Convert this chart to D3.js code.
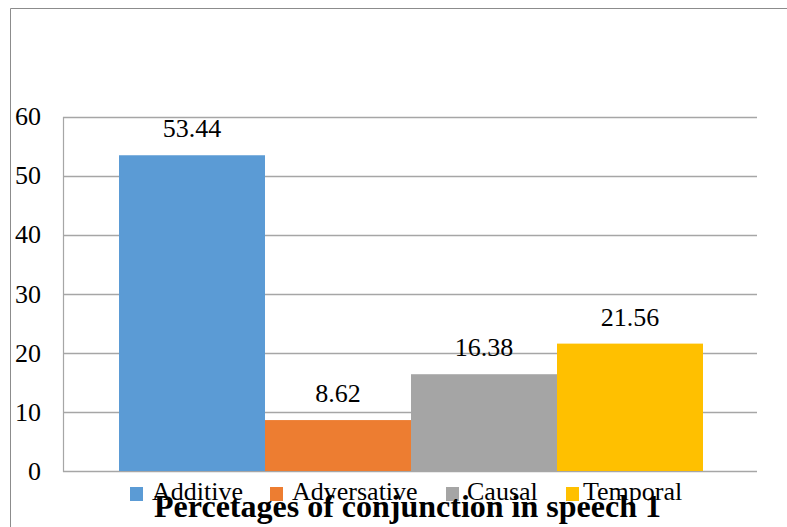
<!DOCTYPE html>
<html><head><meta charset="utf-8">
<script src="https://cdn.jsdelivr.net/npm/d3@7"></script>
<style>body{margin:0;background:#fff}svg{display:block}svg text{font-family:"Liberation Serif","Times New Roman",serif !important}</style>
</head><body><svg id="c" width="787" height="527"></svg>
<script>
const categories = ["Additive","Adversative","Causal","Temporal"];
const values = [53.44, 8.62, 16.38, 21.56];
const colors = ["#5b9bd5","#ed7d31","#a5a5a5","#ffc000"];
const yTicks = [0,10,20,30,40,50,60];
const title = "Percetages of conjunction in speech 1";

const svg = d3.select("#c");
// outer chart border
svg.append("path").attr("d","M10.5,600V8.5H800").attr("fill","none").attr("stroke","#8c8c8c").attr("stroke-width",1);

const pLeft=63, pRight=757, pTop=116.5, pBottom=471;
const y = d3.scaleLinear().domain([0,60]).range([pBottom, pTop]);
const x = d3.scaleBand().domain(categories).range([119, 703]).padding(0);

// gridlines
svg.append("g").selectAll("line").data(yTicks).join("line")
  .attr("x1",pLeft).attr("x2",pRight)
  .attr("y1",d=>Math.round(y(d))+0.5).attr("y2",d=>Math.round(y(d))+0.5)
  .attr("stroke","#a6a6a6").attr("stroke-width",1.5);
// left axis line
svg.append("line").attr("x1",pLeft+0.5).attr("x2",pLeft+0.5).attr("y1",Math.round(pTop)).attr("y2",pBottom+1)
  .attr("stroke","#a6a6a6").attr("stroke-width",1.2);

// y tick labels
const ax = d3.axisLeft(y).tickValues(yTicks).tickSize(0).tickPadding(22).tickFormat(d3.format("d"));
const axg = svg.append("g").attr("transform",`translate(${pLeft},0)`).call(ax);
axg.select(".domain").remove();
axg.selectAll("text").attr("font-size",26).attr("fill","#000").attr("dy","0.32em");

// bars
svg.append("g").selectAll("rect").data(values).join("rect")
  .attr("x",(d,i)=>x(categories[i])).attr("width",x.bandwidth())
  .attr("y",d=>y(d)).attr("height",d=>y(0)-y(d))
  .attr("fill",(d,i)=>colors[i]);

// data labels
svg.append("g").selectAll("text").data(values).join("text")
  .attr("x",(d,i)=>x(categories[i])+x.bandwidth()/2).attr("y",d=>y(d)-18)
  .attr("text-anchor","middle").attr("font-size",26).attr("fill","#000")
  .text(d=>d3.format(".2f")(d));

// legend
const legX = [130,270,446,566];
const lg = svg.append("g").selectAll("g").data(categories).join("g")
  .attr("transform",(d,i)=>`translate(${legX[i]},487)`);
lg.append("rect").attr("width",13).attr("height",14).attr("fill",(d,i)=>colors[i]);
lg.append("text").attr("x",(d,i)=>i===0?22:i===1?22:i===2?21:17).attr("y",13).attr("font-size",26).attr("fill","#000").text(d=>d);

// title
svg.append("text").attr("x",407.5).attr("y",517).attr("text-anchor","middle")
  .attr("font-size",32).attr("font-weight","bold").attr("fill","#000").text(title);
</script></body></html>
